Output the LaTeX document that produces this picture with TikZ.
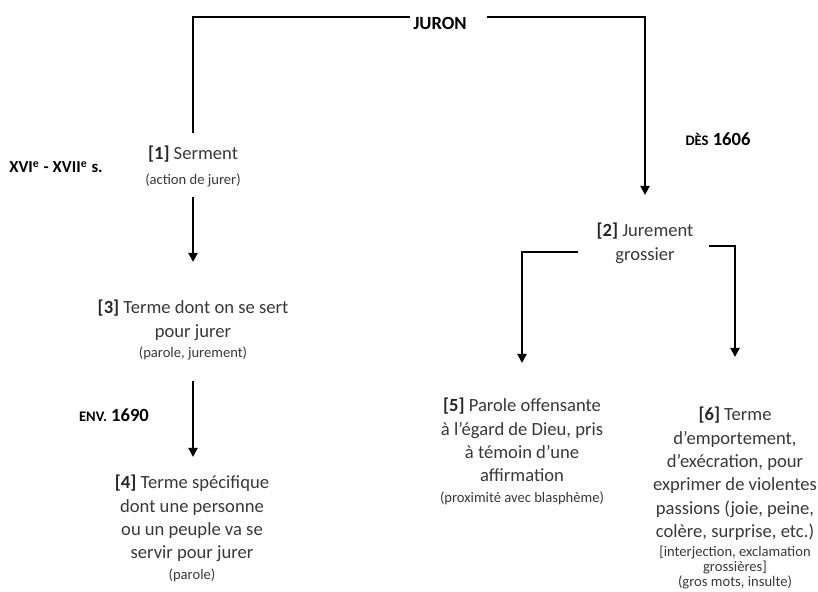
\documentclass[tikz,border=0pt]{standalone}
\usepackage{fontspec}
\setmainfont{Carlito}
\usetikzlibrary{arrows.meta}
\definecolor{txt}{gray}{0.22}
\newcommand{\mainsz}{\fontsize{9.3pt}{11.65pt}\selectfont}
\newcommand{\smallsz}{\fontsize{7.3pt}{8.6pt}\selectfont}
\newcommand{\refno}[1]{\textbf{\color{black!85}[#1]}}
\begin{document}
\begin{tikzpicture}[x=0.5pt, y=-0.5pt,
    every node/.style = {align=center, inner sep=0pt,
      text=txt, font=\mainsz},
    era/.style = {font=\mainsz\bfseries, text=black},
    conn/.style = {line width=1pt},
    arr/.style = {conn, -{Triangle[width=4.5pt,length=4.5pt]}}]
    \useasboundingbox (0,0) rectangle (818,592);
    \node[era] (juron) at (440,23) {JURON};
    \node[era, font=\fontsize{8.4pt}{10pt}\selectfont\bfseries] (xvi) at (56,167)
        {XVI\textsuperscript{e} - XVII\textsuperscript{e} s.};
    \node[era] (des) at (718,139) {{\smallsz DÈS} 1606};
    \node[era] (env) at (114,415) {{\smallsz ENV.} 1690};
    \node[anchor=north] (n1) at (193,146) {\refno{1} Serment\\[0.5pt]
        {\smallsz (action de jurer)}};
    \node[anchor=north] (n2) at (645,223) {\refno{2} Jurement\\ grossier};
    \node[anchor=north] (n3) at (193,300) {\refno{3} Terme dont on se sert\\
        pour jurer\\[-1.5pt] {\smallsz (parole, jurement)}};
    \node[anchor=north] (n4) at (192,475) {\refno{4} Terme spécifique\\
        dont une personne\\ ou un peuple va se\\ servir pour jurer\\[-1.5pt]
        {\smallsz (parole)}};
    \node[anchor=north] (n5) at (522,398) {\refno{5} Parole offensante\\
        à l’égard de Dieu, pris\\ à témoin d’une\\ affirmation\\[-1.5pt]
        {\smallsz (proximité avec blasphème)}};
    \node[anchor=north] (n6) at (735,407) {\refno{6} Terme\\ d’emportement,\\
        d’exécration, pour\\ exprimer de violentes\\ passions (joie, peine,\\
        colère, surprise, etc.)\\[-2.2pt]
        {\smallsz [interjection, exclamation}\\[-4pt] {\smallsz grossières]}\\[-4pt]
        {\smallsz (gros mots, insulte)}};
    \coordinate (jl) at (410,17);
    \coordinate (jr) at (487,17);
    \coordinate (b5) at (578,252);
    \coordinate (b6) at (709,246);
    \draw[conn, shorten >=6.5pt] (jl) -| (n1.north);
    \draw[arr, shorten >=14pt] (jr) -| (n2.north);
    \draw[arr, shorten <=5pt, shorten >=19pt] (n1.south) -- (n3.north);
    \draw[arr, shorten <=10.5pt, shorten >=9pt] (n3.south) -- (n3.south |- n4.north);
    \draw[arr, shorten >=17.5pt] (b5) -| (n5.north);
    \draw[arr, shorten >=25pt] (b6) -| (n6.north);
\end{tikzpicture}
\end{document}
